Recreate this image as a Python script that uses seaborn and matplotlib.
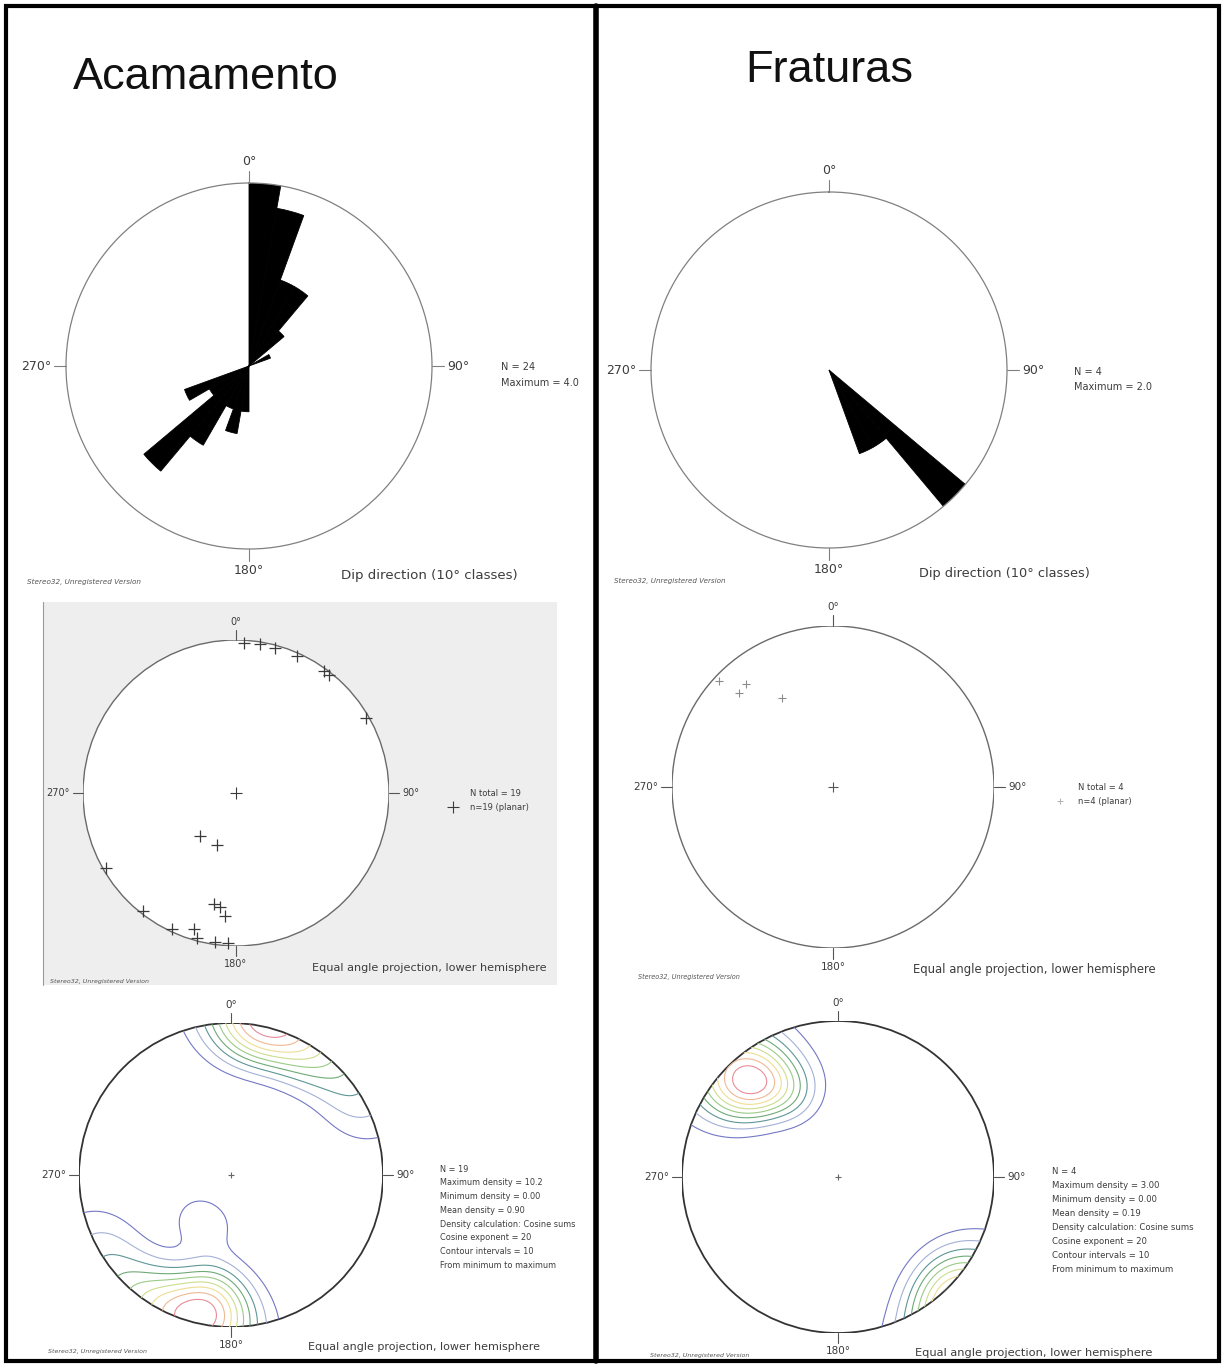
import numpy as np
import pandas as pd
import matplotlib
matplotlib.use("Agg")
import matplotlib.pyplot as plt
from matplotlib.patches import Circle, Rectangle
from matplotlib.lines import Line2D
import seaborn as sns

W, H, DPI = 1222, 1364, 100

# ---- rose diagrams: dip direction classes (start of each 10° class) and counts
acam_rose_bins = [0, 10, 20, 30, 40, 60, 180, 190, 200, 210, 220, 230, 240]
acam_rose_counts = [4, 3.5, 2, 2, 1, 0.5, 1, 1.5, 1, 2, 3, 1, 1.5]
acam_rose_max = 4.0
frat_rose_bins = [130, 140, 150]
frat_rose_counts = [2, 1, 1]
frat_rose_max = 2.0

# ---- poles to planes (trend / plunge, degrees)
acam_pole_trend = [3, 9, 15, 24, 36, 38, 60, 240, 218, 205, 195, 188, 183,
                   197, 191, 188, 185, 220, 200]
acam_pole_plunge = [1, 1, 1, 1, 1, 1, 1, 1, 1, 1, 1, 1, 1,
                    4, 17, 16, 12, 50, 50]
frat_pole_trend = [313, 315, 320, 330]
frat_pole_plunge = [2, 11, 10, 25]

# ---- text blocks
acam_density_info = ["N = 19", "Maximum density = 10.2", "Minimum density = 0.00",
                     "Mean density = 0.90", "Density calculation: Cosine sums",
                     "Cosine exponent = 20", "Contour intervals = 10",
                     "From minimum to maximum"]
frat_density_info = ["N = 4", "Maximum density = 3.00", "Minimum density = 0.00",
                     "Mean density = 0.19", "Density calculation: Cosine sums",
                     "Cosine exponent = 20", "Contour intervals = 10",
                     "From minimum to maximum"]

contour_colors = ["#7478c4", "#a4b0d8", "#5e9696", "#6eaa76", "#9acb86",
                  "#cddd8c", "#efdd92", "#f1b894", "#e88c98"]

sns.set_theme(style="white")
plt.rcParams["font.family"] = ["DejaVu Sans"]

fig = plt.figure(figsize=(W / DPI, H / DPI), dpi=DPI)
fig.patch.set_facecolor("white")


def fx(x):
    return x / W


def fy(y):
    return 1 - y / H


def ftext(x, y, s, size, ha="left", va="center", color="#3c3c3c", **kw):
    fig.text(fx(x), fy(y), s, fontsize=size, ha=ha, va=va, color=color, **kw)


def fline(x0, y0, x1, y1, color="#555555", lw=0.8, zorder=2):
    fig.add_artist(Line2D([fx(x0), fx(x1)], [fy(y0), fy(y1)],
                          transform=fig.transFigure, color=color, lw=lw,
                          zorder=zorder))


def compass(cx, cy, R, tick, size, gap=3, color="#555555"):
    fline(cx, cy - R, cx, cy - R - tick, color)
    fline(cx + R, cy, cx + R + tick, cy, color)
    fline(cx, cy + R, cx, cy + R + tick, color)
    fline(cx - R, cy, cx - R - tick, cy, color)
    ftext(cx, cy - R - tick - gap, "0°", size, ha="center", va="bottom")
    ftext(cx + R + tick + gap, cy, "90°", size, ha="left")
    ftext(cx, cy + R + tick + gap, "180°", size, ha="center", va="top")
    ftext(cx - R - tick - gap, cy, "270°", size, ha="right")


def watermark(x, y, size):
    ftext(x, y, "Stereo32, Unregistered Version", size, style="italic",
          color="#555555")


def rose(cx, cy, R, bins, counts, vmax):
    ax = fig.add_axes([fx(cx - R), fy(cy + R), 2 * R / W, 2 * R / H],
                      projection="polar")
    ax.set_theta_zero_location("N")
    ax.set_theta_direction(-1)
    theta = np.deg2rad(np.asarray(bins, dtype=float) + 5)
    ax.bar(theta, counts, width=np.deg2rad(10), bottom=0, align="center",
           color="black", edgecolor="black", linewidth=0.6)
    ax.set_ylim(0, vmax)
    ax.set_xticks([])
    ax.set_yticks([])
    ax.grid(False)
    ax.set_facecolor("white")
    ax.spines["polar"].set_color("#808080")
    ax.spines["polar"].set_linewidth(0.9)
    return ax


def stereo_ax(cx, cy, R, edge="#5a5a5a", lw=1.0):
    ax = fig.add_axes([fx(cx - R), fy(cy + R), 2 * R / W, 2 * R / H])
    ax.axis("off")
    ax.add_patch(Circle((0, 0), 1, facecolor="white", edgecolor=edge, lw=lw,
                        zorder=1))
    return ax


def project(trend, plunge):
    t = np.deg2rad(np.asarray(trend, dtype=float))
    p = np.deg2rad(np.asarray(plunge, dtype=float))
    r = np.tan((np.pi / 2 - p) / 2)
    return r * np.sin(t), r * np.cos(t)


def cosine_density(trend, plunge, n=91, ext=1.06, exponent=20):
    g = np.linspace(-ext, ext, n)
    X, Y = np.meshgrid(g, g)
    r = np.hypot(X, Y)
    th = 2 * np.arctan(r)
    az = np.arctan2(X, Y)
    gx, gy, gz = np.sin(th) * np.sin(az), np.sin(th) * np.cos(az), -np.cos(th)
    t = np.deg2rad(np.asarray(trend, dtype=float))
    p = np.deg2rad(np.asarray(plunge, dtype=float))
    D = np.zeros_like(X)
    for a, b, c in zip(np.cos(p) * np.sin(t), np.cos(p) * np.cos(t), -np.sin(p)):
        D += np.abs(gx * a + gy * b + gz * c) ** exponent
    return X, Y, D, r


def contour_net(ax, trend, plunge):
    X, Y, D, r = cosine_density(trend, plunge)
    inside = r <= 1
    dmin, dmax = D[inside].min(), D[inside].max()
    levels = np.linspace(dmin, dmax, 11)[1:10]
    cs = ax.contour(X, Y, D, levels=levels, colors=contour_colors,
                    linewidths=0.8, zorder=2)
    clip = Circle((0, 0), 1, transform=ax.transData, facecolor="none",
                  edgecolor="none")
    ax.add_patch(clip)
    cs.set_clip_path(clip)


def center_cross(ax, size, color):
    ax.plot([0], [0], marker="+", ms=size, mew=0.8, color=color, zorder=4,
            clip_on=False)


def finish(ax):
    ax.set_xlim(-1, 1)
    ax.set_ylim(-1, 1)
    ax.set_aspect("equal")
    ax.axis("off")


# ================= frame =================
fig.add_artist(Rectangle((fx(6), fy(1361)), fx(1219) - fx(6), fy(6) - fy(1361),
                         transform=fig.transFigure, fill=False, edgecolor="black",
                         lw=3.0, zorder=6))
fline(596, 6, 596, 1361, color="black", lw=4.0, zorder=6)

# grey panel behind the left pole plot
fig.add_artist(Rectangle((fx(43), fy(985)), fx(557) - fx(43), fy(602) - fy(985),
                         transform=fig.transFigure, facecolor="#eeeeee",
                         edgecolor="none", zorder=-1))
fline(43, 602, 43, 985, color="#9a9a9a", lw=0.8, zorder=-1)

# ================= titles =================
fig.text(fx(73), fy(89), "Acamamento", fontsize=32.5, ha="left", va="baseline",
         color="#111111", family=["Liberation Sans", "DejaVu Sans"])
fig.text(fx(745), fy(82), "Fraturas", fontsize=32.5, ha="left", va="baseline",
         color="#111111", family=["Liberation Sans", "DejaVu Sans"])

# ================= rose diagrams =================
rose(249, 366, 183, acam_rose_bins, acam_rose_counts, acam_rose_max)
compass(249, 366, 183, 12, 9, color="#808080")
ftext(501, 367, "N = 24", 7)
ftext(501, 383, "Maximum = 4.0", 7)
ftext(341, 575, "Dip direction (10° classes)", 9.6)
watermark(27, 582, 5.2)

rose(829, 370, 178, frat_rose_bins, frat_rose_counts, frat_rose_max)
compass(829, 370, 178, 12, 9, color="#808080")
ftext(1074, 372, "N = 4", 7)
ftext(1074, 387, "Maximum = 2.0", 7)
ftext(919, 573, "Dip direction (10° classes)", 9.3)
watermark(614, 581, 5.1)

# ================= pole plots =================
ax = stereo_ax(236, 793, 153, edge="#6a6a6a", lw=1.0)
px, py = project(acam_pole_trend, acam_pole_plunge)
sns.scatterplot(data=pd.DataFrame({"x": px, "y": py}), x="x", y="y", ax=ax,
                marker="+", s=70, color="#3a3a3a", linewidth=0.9,
                legend=False, clip_on=False, zorder=3)
center_cross(ax, 8, "#3a3a3a")
finish(ax)
compass(236, 793, 153, 10, 7)
ftext(470, 793, "N total = 19", 6)
ftext(470, 808, "n=19 (planar)", 6)
fig.add_artist(Line2D([fx(453)], [fy(807)], marker="+", ms=8, mew=0.8,
                      color="#3a3a3a", transform=fig.transFigure))
ftext(312, 968, "Equal angle projection, lower hemisphere", 8.1)
watermark(50, 982, 4.5)

ax = stereo_ax(833, 787, 161, edge="#6a6a6a", lw=1.0)
px, py = project(frat_pole_trend, frat_pole_plunge)
sns.scatterplot(data=pd.DataFrame({"x": px, "y": py}), x="x", y="y", ax=ax,
                marker="+", s=30, color="#8c8c8c", linewidth=0.8,
                legend=False, clip_on=False, zorder=3)
center_cross(ax, 7, "#555555")
finish(ax)
compass(833, 787, 161, 11, 7.5)
ftext(1078, 787, "N total = 4", 6)
ftext(1078, 801, "n=4 (planar)", 6)
fig.add_artist(Line2D([fx(1060)], [fy(801)], marker="+", ms=5, mew=0.7,
                      color="#b0b0b0", transform=fig.transFigure))
ftext(913, 969, "Equal angle projection, lower hemisphere", 8.4)
watermark(638, 977, 4.7)

# ================= density contour plots =================
ax = stereo_ax(231, 1175, 152, edge="#333333", lw=1.3)
contour_net(ax, acam_pole_trend, acam_pole_plunge)
center_cross(ax, 5, "#666666")
finish(ax)
compass(231, 1175, 152, 10, 7.5)
for i, line in enumerate(acam_density_info):
    ftext(440, 1169 + 13.8 * i, line, 5.9)
ftext(308, 1347, "Equal angle projection, lower hemisphere", 8.0)
watermark(48, 1352, 4.5)

ax = stereo_ax(838, 1177, 156, edge="#333333", lw=1.3)
contour_net(ax, frat_pole_trend, frat_pole_plunge)
center_cross(ax, 5, "#666666")
finish(ax)
compass(838, 1177, 156, 10, 7.5)
for i, line in enumerate(frat_density_info):
    ftext(1052, 1171 + 14 * i, line, 6.1)
ftext(915, 1353, "Equal angle projection, lower hemisphere", 8.2)
watermark(650, 1356, 4.6)

fig.savefig("out.png", dpi=DPI, facecolor="white")
